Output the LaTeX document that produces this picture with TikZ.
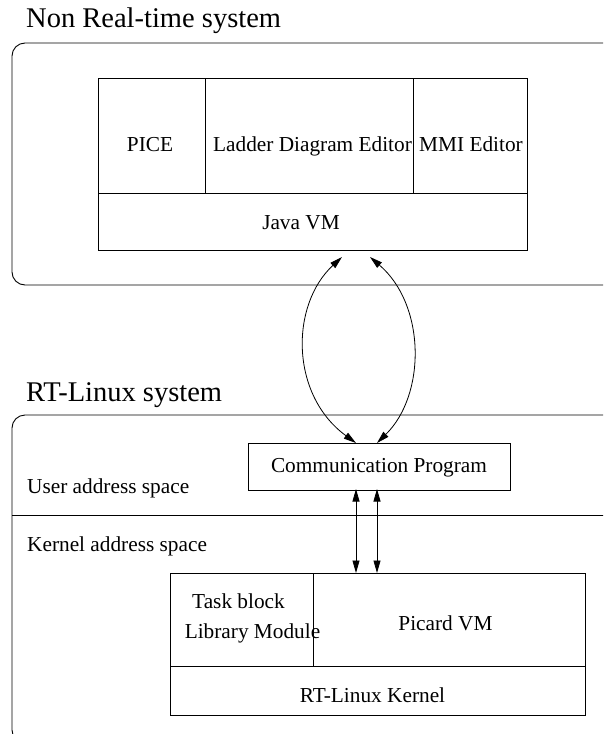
\documentclass[tikz,border=0pt]{standalone}
\usepackage{fontspec}
\setmainfont{Liberation Serif}
\usetikzlibrary{arrows.meta}
\begin{document}
\begin{tikzpicture}[x=1pt,y=-1pt,
  cell/.style={draw, line width=0.9pt, inner sep=0pt, outer sep=0pt},
  lbl/.style={anchor=base, inner sep=0pt, font=\fontsize{21.3}{24}\selectfont},
  lblw/.style={anchor=base west, inner sep=0pt, font=\fontsize{21.3}{24}\selectfont},
  ttl/.style={anchor=base west, inner sep=0pt, font=\fontsize{28.5}{32}\selectfont},
  link/.style={line width=0.8pt, {Triangle[length=12.5pt,width=7pt]}-{Triangle[length=12.5pt,width=7pt]}},
  frame/.style={draw, line width=0.9pt, rounded corners=13pt}]
\useasboundingbox (0,0) rectangle (603,734);
\clip (0,0) rectangle (603,734);

% outer frames
\draw[frame] (12,43) rectangle (660,285);
\draw[frame] (12,415) rectangle (660,743);
\draw[line width=0.9pt] (12,515) -- (660,515);

% titles
\node[ttl] (t1) at (26,27) {Non Real-time system};
\node[ttl] (t2) at (26,401) {RT-Linux system};
\node[lblw] (ua) at (27,493) {User address space};
\node[lblw] (ka) at (27,551) {Kernel address space};

% top block
\node[cell, minimum width=107pt, minimum height=115pt] (pice) at (151.5,135.5) {};
\node[cell, minimum width=208pt, minimum height=115pt] (ladder) at (309,135.5) {};
\node[cell, minimum width=114pt, minimum height=115pt] (mmi) at (470,135.5) {};
\node[cell, minimum width=429pt, minimum height=57pt] (java) at (312.5,221.5) {};
\node[lbl] (picet) at (150,151) {PICE};
\node[lbl] (laddert) at (312.5,151) {Ladder Diagram Editor};
\node[lbl] (mmit) at (471,151) {MMI Editor};
\node[lbl] (javat) at (301,229) {Java VM};

% communication program
\node[cell, minimum width=262pt, minimum height=47pt] (comm) at (379,466.5) {};
\node[lbl] (commt) at (379,472) {Communication Program};

% bottom block
\node[cell, minimum width=143pt, minimum height=93pt] (task) at (241.5,619.5) {};
\node[cell, minimum width=272pt, minimum height=93pt] (picard) at (449,619.5) {};
\node[cell, minimum width=415pt, minimum height=49pt] (kernel) at (377.5,690.5) {};
\node[lbl] (taskt) at (238.5,608) {Task block};
\node[lbl] (libt) at (252.5,638) {Library Module};
\node[lbl] (picardt) at (445.5,630) {Picard VM};
\node[lbl] (kernelt) at (372.5,702) {RT-Linux Kernel};

% connector end points
\coordinate (ja) at ([xshift=29.5pt,yshift=-7pt]java.south);
\coordinate (jb) at ([xshift=57.5pt,yshift=-7pt]java.south);
\coordinate (ca) at ([xshift=-23pt]comm.north);
\coordinate (cb) at ([xshift=-2pt]comm.north);
\coordinate (cc) at ([xshift=-23pt,yshift=1pt]comm.south);
\coordinate (cd) at ([xshift=-2pt,yshift=1pt]comm.south);
\coordinate (pa) at (cc |- picard.north);
\coordinate (pb) at (cd |- picard.north);

\draw[link] (ja) .. controls (290,305) and (290,395) .. (ca);
\draw[link] (jb) .. controls (426,305) and (426,395) .. (cb);
\draw[link] (cc) -- (pa);
\draw[link] (cd) -- (pb);
\end{tikzpicture}
\end{document}
